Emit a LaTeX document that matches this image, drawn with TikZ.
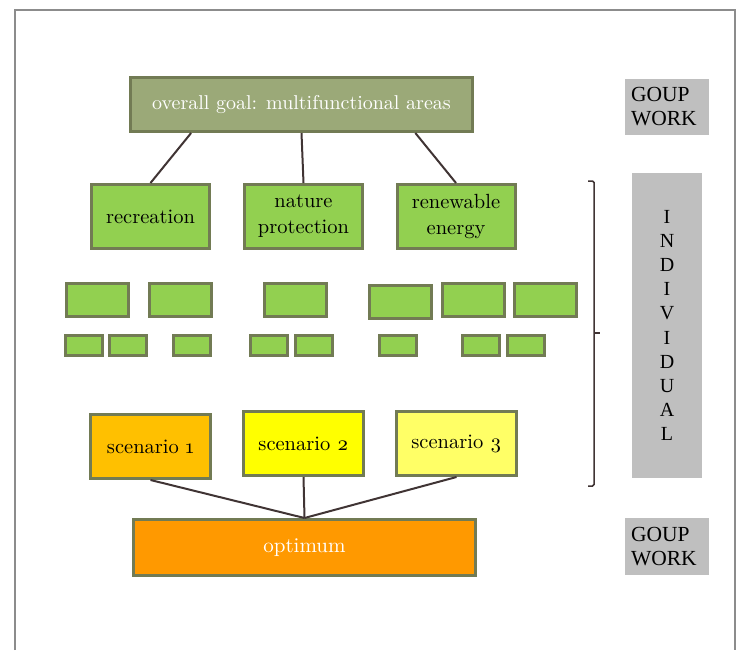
\documentclass[tikz,border=0pt]{standalone}
\usepackage{fontspec}
\usepackage{tikz}
\usepackage{xcolor}
\usetikzlibrary{calc}
\setmainfont{lmroman10-regular}[Extension = .otf]
\newfontfamily\tnr{Liberation Serif}
\definecolor{goalgreen}{RGB}{155,169,120}
\definecolor{leafgreen}{RGB}{146,208,80}
\definecolor{edgeolive}{RGB}{114,123,84}
\definecolor{scenorange}{RGB}{255,192,0}
\definecolor{scenyellow}{RGB}{255,255,0}
\definecolor{scenpale}{RGB}{255,255,102}
\definecolor{optorange}{RGB}{255,153,0}
\definecolor{panelgray}{RGB}{191,191,191}
\definecolor{framegray}{RGB}{140,140,140}
\definecolor{linkdark}{RGB}{64,52,52}
\tikzstyle{olive box}=[
        draw = edgeolive,
        line width = 3pt,
        inner sep = 0pt,
        align = center,
        font = \fontsize{20.5}{26}\selectfont
    ]
\tikzstyle{leaf box}=[olive box, fill = leafgreen, minimum width = 118pt, minimum height = 64pt]
\tikzstyle{mid box}=[olive box, fill = leafgreen, minimum width = 62pt, minimum height = 33pt]
\tikzstyle{small box}=[olive box, fill = leafgreen, minimum width = 37pt, minimum height = 20pt]
\tikzstyle{scen box}=[olive box, minimum width = 120pt, minimum height = 64pt]
\tikzstyle{gray box}=[
    fill = panelgray,
    inner sep = 0pt,
    font = \tnr\fontsize{21.5}{24}\selectfont
]
\tikzstyle{link}=[draw = linkdark, line width = 2pt]

\begin{document}
\begin{tikzpicture}[x=1pt, y=-1pt]
        \useasboundingbox (0,0) rectangle (738,650);
        % frame
        \draw[framegray, line width = 2pt] (15,650) -- (15,10) -- (735,10) -- (735,650);

        \node[olive box, fill = goalgreen, text = white, minimum width = 342pt, minimum height = 54pt,
              font = \fontsize{20}{24}\selectfont] (goal) at (301.5,104.5) {overall goal: multifunctional areas};

        \node[leaf box] (1) at (150.5,216.5) {recreation};
        \node[leaf box] (2) at (303.5,216.5) {nature\\protection};
        \node[leaf box] (3) at (456,216.5) {renewable\\energy};

        \node[mid box] (m1) at (97,299.5) {};
        \node[mid box] (m2) at (180,299.5) {};
        \node[mid box] (m3) at (295,299.5) {};
        \node[mid box] (m4) at (400,301.5) {};
        \node[mid box] (m5) at (473,299.5) {};
        \node[mid box] (m6) at (545,299.5) {};

        \node[small box] (s1) at (84,345) {};
        \node[small box] (s2) at (128,345) {};
        \node[small box] (s3) at (192,345) {};
        \node[small box] (s4) at (269,345) {};
        \node[small box] (s5) at (314,345) {};
        \node[small box] (s6) at (398,345) {};
        \node[small box] (s7) at (481,345) {};
        \node[small box] (s8) at (526,345) {};

        \node[scen box, fill = scenorange] (sc1) at (150.5,446.5) {scenario {\addfontfeatures{Numbers=OldStyle}1}};
        \node[scen box, fill = scenyellow] (sc2) at (303.5,443.5) {scenario {\addfontfeatures{Numbers=OldStyle}2}};
        \node[scen box, fill = scenpale] (sc3) at (456.5,443.5) {scenario {\addfontfeatures{Numbers=OldStyle}3}};

        \node[olive box, fill = optorange, text = white, minimum width = 342pt, minimum height = 56pt,
              font = \fontsize{21}{24}\selectfont] (opt) at (304.5,547.5) {optimum};

        \node[gray box, minimum width = 84pt, minimum height = 56pt, text width = 72pt, align = left,
              inner xsep = 6pt] (gw1) at (667,107) {GOUP\\WORK};
        \node[gray box, minimum width = 84pt, minimum height = 57pt, text width = 72pt, align = left,
              inner xsep = 6pt] (gw2) at (667,546.5) {GOUP\\WORK};
        \node[gray box, minimum width = 70pt, minimum height = 305pt, align = center,
              font = \tnr\fontsize{20}{24.2}\selectfont] (ind) at (667,325.5) {I\\N\\D\\I\\V\\I\\D\\U\\A\\L};

        \draw[link] ($(goal.south west)!0.18!(goal.south east)$) -- (1.north);
        \draw[link] (goal.south) -- (2.north);
        \draw[link] ($(goal.south west)!0.83!(goal.south east)$) -- (3.north);

        \draw[link] (sc1.south) -- (opt.north);
        \draw[link] (sc2.south) -- (opt.north);
        \draw[link] (sc3.south) -- (opt.north);

        % bracket
        \draw[linkdark, line width = 1.5pt, rounded corners = 1.5pt] (588,181) -- (594,181) -- (594,486) -- (588,486);
        \draw[linkdark, line width = 1.5pt] (594,333) -- (600,333);

    \end{tikzpicture}
\end{document}
